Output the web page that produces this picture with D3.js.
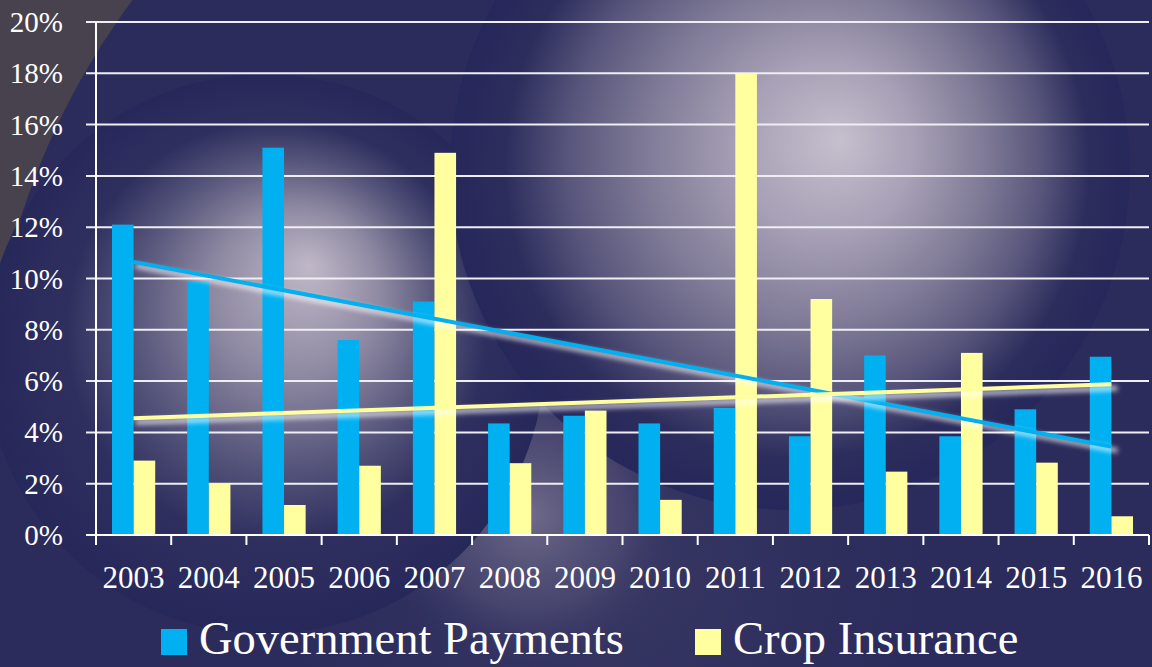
<!DOCTYPE html>
<html>
<head>
<meta charset="utf-8">
<script src="https://d3js.org/d3.v7.min.js"></script>
<style>
body { margin: 0; background: #27285a; }
svg { display: block; }
</style>
</head>
<body>
<div id="chart"></div>
<script>
// chart data
var years = ["2003", "2004", "2005", "2006", "2007", "2008", "2009", "2010", "2011", "2012", "2013", "2014", "2015", "2016"];
var govPayments = [12.1, 9.9, 15.1, 7.6, 9.1, 4.35, 4.65, 4.35, 4.95, 3.85, 7.0, 3.85, 4.9, 6.95];
var cropInsurance = [2.9, 2.0, 1.17, 2.7, 14.9, 2.8, 4.85, 1.37, 18.0, 9.2, 2.47, 7.1, 2.82, 0.73];
var yTicks = [0, 2, 4, 6, 8, 10, 12, 14, 16, 18, 20];
var seriesNames = ["Government Payments", "Crop Insurance"];
var seriesColors = ["#00b0f0", "#ffffa0"];

var width = 1152, height = 667;
var plotLeft = 96, plotRight = 1149, plotTop = 22, plotBottom = 535;
var font = "'Liberation Serif', 'Times New Roman', serif";

var svg = d3.select("#chart").append("svg")
	.attr("width", width)
	.attr("height", height);

var defs = svg.append("defs");

function radial(id, cx, cy, r, fx, fy, stops) {
	var g = defs.append("radialGradient")
		.attr("id", id)
		.attr("gradientUnits", "userSpaceOnUse")
		.attr("cx", cx).attr("cy", cy).attr("r", r)
		.attr("fx", fx).attr("fy", fy);
	stops.forEach(function(s) {
		g.append("stop").attr("offset", s[0]).attr("stop-color", s[1]).attr("stop-opacity", s[2]);
	});
};

// background spheres (decoration of the slide)
radial("sphereR", 790, 170, 340, 840, 140, [[0, "#c6bfcd", 1], [0.25, "#a8a1b7", 1], [0.5, "#7f7a96", 1], [0.7, "#57557b", 1], [0.86, "#2d2d5d", 1], [1, "#26275a", 1]]);
radial("sphereL", 265, 354, 280, 310, 265, [[0, "#c0b8c8", 1], [0.3, "#8e89a2", 1], [0.55, "#55547a", 1], [0.75, "#2f2f5f", 1], [1, "#27285a", 1]]);
radial("glowMid", 530, 515, 160, 530, 515, [[0, "#6f6a8a", 1], [0.6, "#4d4b73", 0.7], [1, "#2e2e5e", 0]]);
radial("glowBottom", 600, 560, 420, 600, 560, [[0, "#3b3a64", 1], [1, "#2a2a5c", 0]]);

var blur = defs.append("filter").attr("id", "glow").attr("x", "-10%").attr("y", "-200%").attr("width", "120%").attr("height", "500%");
blur.append("feGaussianBlur").attr("stdDeviation", 2.5);

svg.append("rect").attr("width", width).attr("height", height).attr("fill", "#2c2c5c");
svg.append("rect").attr("width", 200).attr("height", 320).attr("fill", "#48424f");
svg.append("circle").attr("cx", 726).attr("cy", 442).attr("r", 740).attr("fill", "#2c2c5c");
svg.append("rect").attr("width", width).attr("height", height).attr("fill", "url(#glowBottom)");
svg.append("circle").attr("cx", 530).attr("cy", 515).attr("r", 160).attr("fill", "url(#glowMid)");
svg.append("circle").attr("cx", 265).attr("cy", 354).attr("r", 280).attr("fill", "url(#sphereL)");
svg.append("circle").attr("cx", 790).attr("cy", 170).attr("r", 340).attr("fill", "url(#sphereR)");

var x = d3.scaleBand().domain(years).range([plotLeft, plotRight]).paddingInner(0).paddingOuter(0);
var xs = d3.scaleBand().domain([0, 1]).range([16, x.bandwidth() - 16]);
var y = d3.scaleLinear().domain([0, 20]).range([plotBottom, plotTop]);

// gridlines
svg.append("g").selectAll("line.grid")
	.data(yTicks.slice(1))
	.enter()
	.append("line")
	.attr("x1", plotLeft - 10).attr("x2", plotRight)
	.attr("y1", function(d) { return y(d) }).attr("y2", function(d) { return y(d) })
	.attr("stroke", "#eeeef4")
	.attr("stroke-width", 2);

// y labels
svg.append("g").selectAll("text")
	.data(yTicks)
	.enter()
	.append("text")
	.attr("x", 63)
	.attr("y", function(d) { return y(d) + 10 })
	.attr("text-anchor", "end")
	.attr("font-family", font)
	.attr("font-size", 29)
	.attr("fill", "#ffffff")
	.text(function(d) { return d + "%" });

// bars
var series = [govPayments, cropInsurance];
series.forEach(function(vals, si) {
	svg.append("g").selectAll("rect")
		.data(vals)
		.enter()
		.append("rect")
		.attr("x", function(d, i) { return x(years[i]) + xs(si) })
		.attr("width", xs.bandwidth())
		.attr("y", function(d) { return y(d) })
		.attr("height", function(d) { return y(0) - y(d) })
		.attr("fill", seriesColors[si]);
});

// linear trend lines
function trend(vals) {
	var n = vals.length;
	var mx = (n - 1) / 2, my = d3.mean(vals);
	var sxy = 0, sxx = 0;
	vals.forEach(function(v, i) { sxy += (i - mx) * (v - my); sxx += (i - mx) * (i - mx); });
	var b = sxy / sxx;
	return [my - b * mx, my + b * (n - 1 - mx)];
};

series.forEach(function(vals, si) {
	var t = trend(vals);
	var x1 = x(years[0]) + x.bandwidth() / 2, x2 = x(years[years.length - 1]) + x.bandwidth() / 2;
	svg.append("line")
		.attr("x1", x1 + 2).attr("x2", x2 + 6)
		.attr("y1", y(t[0]) + 4).attr("y2", y(t[1]) + 4)
		.attr("stroke", "#ffffff").attr("stroke-opacity", 0.7)
		.attr("stroke-width", 5)
		.attr("filter", "url(#glow)");
	svg.append("line")
		.attr("x1", x1).attr("x2", x2)
		.attr("y1", y(t[0])).attr("y2", y(t[1]))
		.attr("stroke", seriesColors[si])
		.attr("stroke-width", 4);
});

// axes
svg.append("line").attr("x1", plotLeft).attr("x2", plotLeft).attr("y1", plotTop).attr("y2", plotBottom)
	.attr("stroke", "#ffffff").attr("stroke-width", 2);
svg.append("line").attr("x1", plotLeft - 10).attr("x2", plotRight).attr("y1", plotBottom).attr("y2", plotBottom)
	.attr("stroke", "#ffffff").attr("stroke-width", 2);
svg.append("g").selectAll("line")
	.data(years.concat(["end"]))
	.enter()
	.append("line")
	.attr("x1", function(d, i) { return plotLeft + i * x.bandwidth() })
	.attr("x2", function(d, i) { return plotLeft + i * x.bandwidth() })
	.attr("y1", plotBottom).attr("y2", plotBottom + 10)
	.attr("stroke", "#ffffff").attr("stroke-width", 2);

svg.append("g").selectAll("text")
	.data(years)
	.enter()
	.append("text")
	.attr("x", function(d) { return x(d) + x.bandwidth() / 2 })
	.attr("y", 588)
	.attr("text-anchor", "middle")
	.attr("font-family", font)
	.attr("font-size", 31)
	.attr("fill", "#ffffff")
	.text(function(d) { return d });

// legend
var legendX = [161, 695];
seriesNames.forEach(function(name, i) {
	svg.append("rect")
		.attr("x", legendX[i]).attr("y", 629)
		.attr("width", 26).attr("height", 26)
		.attr("fill", seriesColors[i]);
	svg.append("text")
		.attr("x", legendX[i] + 38).attr("y", 654)
		.attr("font-family", font)
		.attr("font-size", 46.5)
		.attr("fill", "#ffffff")
		.text(name);
});
</script>
</body>
</html>
